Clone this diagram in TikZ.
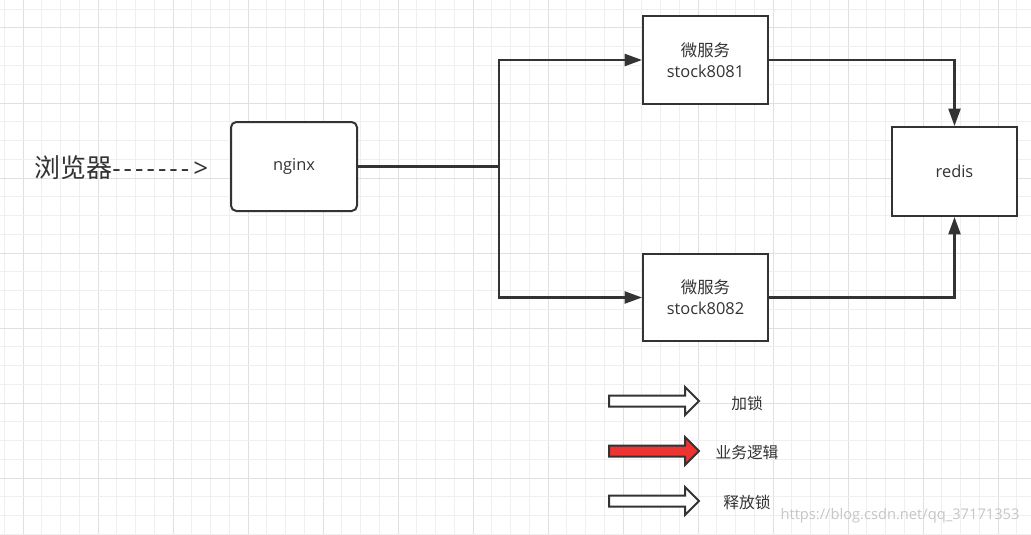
\documentclass[tikz,border=0pt]{standalone}
\usepackage{fontspec}
\setmainfont{Open Sans}
\newfontfamily\cjk{Noto Sans CJK SC}
\usetikzlibrary{arrows.meta}
\definecolor{ink}{HTML}{333333}
\definecolor{gridminor}{HTML}{EFEFEF}
\definecolor{gridmajor}{HTML}{E0E0E0}
\definecolor{legendred}{HTML}{EE3333}
\begin{document}
\begin{tikzpicture}[x=0.75pt,y=-0.75pt,
  box/.style={draw=ink,line width=1.5pt,fill=white,inner sep=0pt,align=center,
              font=\fontsize{12.3pt}{16pt}\selectfont,text=ink},
  rbox/.style={box,rounded corners=4pt},
  conn/.style={draw=ink,line width=1.6pt,-{Triangle[length=13pt,width=9pt]}},
  plain/.style={draw=ink,line width=1.6pt},
  legarrow/.style={draw=ink,line width=1.5pt,line join=miter},
  label/.style={text=ink,font=\cjk\fontsize{11.8pt}{14pt}\selectfont,inner sep=0pt}
]
\useasboundingbox (0,0) rectangle (1031,535);
\fill[white] (0,0) rectangle (1031,535);
% grid
\foreach \k in {0,...,54} {
  \pgfmathsetmacro{\xx}{4.25+18.75*\k}
  \pgfmathtruncatemacro{\m}{mod(\k,4)}
  \ifnum\m=1 \draw[gridmajor,line width=0.75pt] (\xx,0) -- (\xx,535);
  \else \draw[gridminor,line width=0.75pt] (\xx,0) -- (\xx,535); \fi
}
\foreach \k in {0,...,28} {
  \pgfmathsetmacro{\yy}{9.25+18.75*\k}
  \pgfmathtruncatemacro{\m}{mod(\k,4)}
  \ifnum\m=1 \draw[gridmajor,line width=0.75pt] (0,\yy) -- (1031,\yy);
  \else \draw[gridminor,line width=0.75pt] (0,\yy) -- (1031,\yy); \fi
}

% browser label
\node[anchor=west,inner sep=0pt,text=ink,font=\fontsize{19.5pt}{22pt}\selectfont] (browser) at (34,168)
  {{\cjk 浏览器}\raisebox{0pt}{\hbox to 57.75pt{-\hfil-\hfil-\hfil-\hfil-\hfil-\hfil-}}\hspace{3pt}>};

% nodes
\node[rbox,minimum width=94.5pt,minimum height=66.75pt] (nginx) at (294,166.5) {nginx};
\node[box,minimum width=93.75pt,minimum height=66pt] (s1) at (705.5,60) {{\cjk 微服务}\\stock8081};
\node[box,minimum width=93.75pt,minimum height=65.25pt] (s2) at (705.5,297.5) {{\cjk 微服务}\\stock8082};
\node[box,minimum width=93.75pt,minimum height=66.75pt] (redis) at (954.5,171.5) {redis};

% connectors
\coordinate (split) at (499,166.5);
\draw[plain] (nginx.east) -- (split);
\draw[conn] (split) |- (s1.west);
\draw[conn] (split) |- (s2.west);
\draw[conn] (s1.east) -| (redis.north);
\draw[conn] (s2.east) -| (redis.south);

% legend
\foreach \yc/\fc [count=\i] in {401/white,451/legendred,501/white} {
  \draw[legarrow,fill=\fc] (609,\yc-5.5) -- (685,\yc-5.5) -- (685,\yc-14) -- (699,\yc)
     -- (685,\yc+14) -- (685,\yc+5.5) -- (609,\yc+5.5) -- cycle;
}
\node[label] (l1) at (747,403) {加锁};
\node[label] (l2) at (747,452.5) {业务逻辑};
\node[label] (l3) at (747,502.5) {释放锁};

% watermark
\node[inner sep=0pt,text=gray!45,font=\fontsize{11pt}{12pt}\selectfont] (wm) at (900,516) {https://blog.csdn.net/qq\_37171353};
\end{tikzpicture}
\end{document}
